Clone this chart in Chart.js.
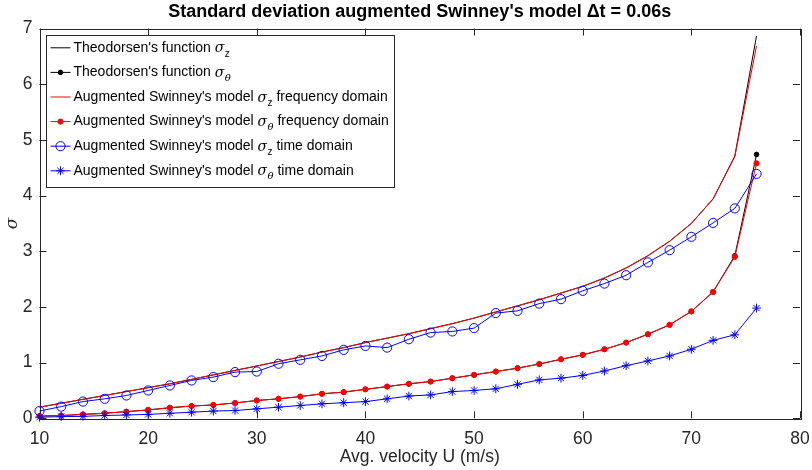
<!DOCTYPE html>
<html>
<head>
<meta charset="utf-8">
<script src="https://cdn.jsdelivr.net/npm/chart.js@4.4.1/dist/chart.umd.min.js"></script>
<style>
  html, body { margin: 0; padding: 0; background: #fff; }
  #wrap { width: 812px; height: 470px; }
</style>
</head>
<body>
<div id="wrap"><canvas id="sigmaChart" width="812" height="470"></canvas></div>
<script>
// mean flow speed (m/s)
const velocity = [10, 12, 14, 16, 18, 20, 22, 24, 26, 28, 30, 32, 34, 36, 38, 40, 42,
                  44, 46, 48, 50, 52, 54, 56, 58, 60, 62, 64, 66, 68, 70, 72, 74, 76];

// Theodorsen reference
const theoSigmaZ = [0.20, 0.27, 0.34, 0.41, 0.48, 0.55, 0.62, 0.70, 0.78, 0.86, 0.94, 1.02,
                    1.10, 1.19, 1.27, 1.36, 1.44, 1.52, 1.61, 1.70, 1.80, 1.91, 2.02, 2.13,
                    2.25, 2.37, 2.52, 2.70, 2.92, 3.18, 3.50, 3.94, 4.71, 6.87];
const theoSigmaTheta = [0.04, 0.05, 0.07, 0.09, 0.12, 0.15, 0.19, 0.22, 0.24, 0.275, 0.32, 0.35,
                        0.39, 0.44, 0.47, 0.52, 0.57, 0.62, 0.66, 0.72, 0.78, 0.84, 0.90, 0.975,
                        1.06, 1.14, 1.24, 1.36, 1.51, 1.68, 1.92, 2.27, 2.92, 4.74];

// augmented Swinney, frequency domain
const freqSigmaZ = [0.20, 0.27, 0.34, 0.41, 0.48, 0.55, 0.62, 0.70, 0.78, 0.86, 0.94, 1.02,
                    1.10, 1.19, 1.27, 1.36, 1.44, 1.52, 1.61, 1.70, 1.80, 1.91, 2.02, 2.13,
                    2.25, 2.37, 2.52, 2.70, 2.92, 3.18, 3.50, 3.94, 4.70, 6.69];
const freqSigmaTheta = [0.04, 0.05, 0.07, 0.09, 0.12, 0.15, 0.19, 0.22, 0.24, 0.275, 0.32, 0.35,
                        0.39, 0.44, 0.47, 0.52, 0.57, 0.62, 0.66, 0.72, 0.78, 0.84, 0.90, 0.975,
                        1.06, 1.14, 1.24, 1.36, 1.51, 1.68, 1.92, 2.27, 2.90, 4.58];

// augmented Swinney, time domain
const timeSigmaZ = [0.13, 0.21, 0.30, 0.35, 0.41, 0.50, 0.59, 0.68, 0.74, 0.83, 0.84, 0.98,
                    1.05, 1.12, 1.23, 1.30, 1.27, 1.42, 1.54, 1.56, 1.62, 1.89, 1.93, 2.06,
                    2.14, 2.29, 2.42, 2.57, 2.80, 3.02, 3.26, 3.51, 3.77, 4.39];
const timeSigmaTheta = [0.02, 0.03, 0.035, 0.05, 0.06, 0.07, 0.09, 0.11, 0.13, 0.14, 0.17, 0.20,
                        0.23, 0.26, 0.28, 0.30, 0.35, 0.40, 0.42, 0.48, 0.50, 0.53, 0.61, 0.69,
                        0.72, 0.77, 0.85, 0.945, 1.03, 1.12, 1.24, 1.40, 1.50, 1.98];

const xTicks = [10, 20, 30, 40, 50, 60, 70, 80];
const yTicks = [0, 1, 2, 3, 4, 5, 6, 7];

const AXIS_COLOR = "#262626";
const FONT = "'Liberation Sans', Arial, Helvetica, sans-serif";

const pts = arr => velocity.map((u, i) => ({ x: u, y: arr[i] }));

/* axes box with inward ticks on all four sides */
const matlabBoxPlugin = {
  id: "matlabBox",
  beforeDatasetsDraw(chart) {
    const { ctx, chartArea: a, scales } = chart;
    const len = 7;
    ctx.save();
    ctx.strokeStyle = AXIS_COLOR;
    ctx.lineWidth = 1;
    ctx.beginPath();
    xTicks.forEach(v => {
      const px = Math.round(scales.x.getPixelForValue(v)) + 0.5;
      ctx.moveTo(px, a.bottom); ctx.lineTo(px, a.bottom - len);
      ctx.moveTo(px, a.top); ctx.lineTo(px, a.top + len);
    });
    yTicks.forEach(v => {
      const py = Math.round(scales.y.getPixelForValue(v)) + 0.5;
      ctx.moveTo(a.left, py); ctx.lineTo(a.left + len, py);
      ctx.moveTo(a.right, py); ctx.lineTo(a.right - len, py);
    });
    ctx.stroke();
    ctx.strokeRect(Math.round(a.left) + 0.5, Math.round(a.top) + 0.5,
                   Math.round(a.right - a.left), Math.round(a.bottom - a.top));
    ctx.restore();
  }
};

/* legend with sigma subscripts */
const sigmaLegendPlugin = {
  id: "sigmaLegend",
  afterDraw(chart) {
    const { ctx, chartArea: a } = chart;
    const sets = chart.data.datasets;
    const x0 = a.left + 6, y0 = a.top + 6.5;
    const w = 348, rowH = 24.6, h = 152;
    ctx.save();
    ctx.fillStyle = "#fff";
    ctx.fillRect(Math.round(x0) + 0.5, Math.round(y0) + 0.5, w, h);
    ctx.strokeStyle = AXIS_COLOR;
    ctx.lineWidth = 1;
    ctx.strokeRect(Math.round(x0) + 0.5, Math.round(y0) + 0.5, w, h);

    sets.forEach((ds, i) => {
      const cy = y0 + 12.7 + i * rowH;
      const lx1 = x0 + 5, lx2 = x0 + 25;
      ctx.strokeStyle = ds.borderColor;
      ctx.lineWidth = ds.borderWidth;
      ctx.beginPath();
      ctx.moveTo(lx1, cy); ctx.lineTo(lx2, cy);
      ctx.stroke();
      if (ds.pointRadius > 0) {
        ctx.fillStyle = ds.pointBackgroundColor;
        ctx.strokeStyle = ds.pointBorderColor;
        ctx.lineWidth = ds.pointBorderWidth;
        Chart.helpers.drawPoint(ctx, {
          pointStyle: ds.pointStyle, radius: ds.pointRadius,
          borderWidth: ds.pointBorderWidth, rotation: 0
        }, (lx1 + lx2) / 2, cy);
      }
      // label: head + sigma_sub + tail
      let tx = x0 + 28;
      ctx.fillStyle = "#000";
      ctx.textBaseline = "middle";
      ctx.font = "14px " + FONT;
      ctx.fillText(ds.labelHead, tx, cy);
      tx += ctx.measureText(ds.labelHead).width;
      ctx.font = "italic 14px 'DejaVu Serif', serif";
      ctx.fillText("\u03c3", tx, cy + 1);
      tx += ctx.measureText("\u03c3").width + 0.5;
      ctx.font = (ds.labelSub === "z" ? "" : "italic ") + "10px " +
                 (ds.labelSub === "z" ? FONT : "'DejaVu Serif', serif");
      ctx.fillText(ds.labelSub, tx, cy + 6);
      tx += ctx.measureText(ds.labelSub).width;
      if (ds.labelTail) {
        ctx.font = "14px " + FONT;
        ctx.fillText(ds.labelTail, tx, cy);
      }
    });
    ctx.restore();
  }
};

const lineSet = (arr, color, extra) => Object.assign({
  data: pts(arr),
  borderColor: color,
  borderWidth: 1,
  pointRadius: 0,
  pointStyle: "circle",
  pointBackgroundColor: color,
  pointBorderColor: color,
  pointBorderWidth: 1,
  tension: 0,
  clip: false
}, extra);

new Chart(document.getElementById("sigmaChart"), {
  type: "line",
  data: {
    datasets: [
      lineSet(theoSigmaZ, "#000000", {
        labelHead: "Theodorsen's function ", labelSub: "z", labelTail: "", order: 6
      }),
      lineSet(theoSigmaTheta, "#000000", {
        labelHead: "Theodorsen's function ", labelSub: "\u03b8", labelTail: "",
        pointRadius: 2.3, order: 5
      }),
      lineSet(freqSigmaZ, "#ff0000", {
        labelHead: "Augmented Swinney's model ", labelSub: "z", labelTail: " frequency domain",
        order: 4
      }),
      lineSet(freqSigmaTheta, "#ff0000", {
        labelHead: "Augmented Swinney's model ", labelSub: "\u03b8", labelTail: " frequency domain",
        pointRadius: 2.6, order: 3
      }),
      lineSet(timeSigmaZ, "#0000ff", {
        labelHead: "Augmented Swinney's model ", labelSub: "z", labelTail: " time domain",
        pointRadius: 4.6, pointBackgroundColor: "rgba(0,0,0,0)", order: 2
      }),
      lineSet(timeSigmaTheta, "#0000ff", {
        labelHead: "Augmented Swinney's model ", labelSub: "\u03b8", labelTail: " time domain",
        pointRadius: 4.4, pointStyle: "star", order: 1
      })
    ]
  },
  options: {
    responsive: false,
    animation: false,
    layout: { padding: { left: 0, right: 12, top: 0, bottom: 0 } },
    plugins: {
      legend: { display: false },
      tooltip: { enabled: false },
      title: {
        display: true,
        fullSize: false,
        text: "Standard deviation augmented Swinney's model \u0394t = 0.06s",
        color: "#000",
        font: { family: FONT, size: 18, weight: "bold" },
        padding: { top: 1.5, bottom: 5.5 }
      }
    },
    scales: {
      x: {
        type: "linear",
        min: 10, max: 80,
        afterBuildTicks: s => { s.ticks = xTicks.map(v => ({ value: v })); },
        afterFit: s => { s.height = 51.7; },
        grid: { display: false },
        border: { display: false },
        ticks: { color: AXIS_COLOR, font: { family: FONT, size: 17.5 }, padding: 2, maxRotation: 0 },
        title: {
          display: true, text: "Avg. velocity U (m/s)", color: AXIS_COLOR,
          font: { family: FONT, size: 17.5 }, padding: { top: 0, bottom: 2 }
        }
      },
      y: {
        type: "linear",
        min: 0, max: 7,
        afterBuildTicks: s => { s.ticks = yTicks.map(v => ({ value: v })); },
        afterFit: s => { s.width = 39.5; },
        grid: { display: false, drawTicks: false },
        border: { display: false },
        ticks: { color: AXIS_COLOR, font: { family: FONT, size: 17.5 }, padding: 7 },
        title: {
          display: true, text: "\u03c3", color: AXIS_COLOR,
          font: { family: "'DejaVu Serif', serif", size: 17, style: "italic" },
          padding: { top: 2, bottom: 0 }
        }
      }
    }
  },
  plugins: [matlabBoxPlugin, sigmaLegendPlugin]
});
</script>
</body>
</html>
